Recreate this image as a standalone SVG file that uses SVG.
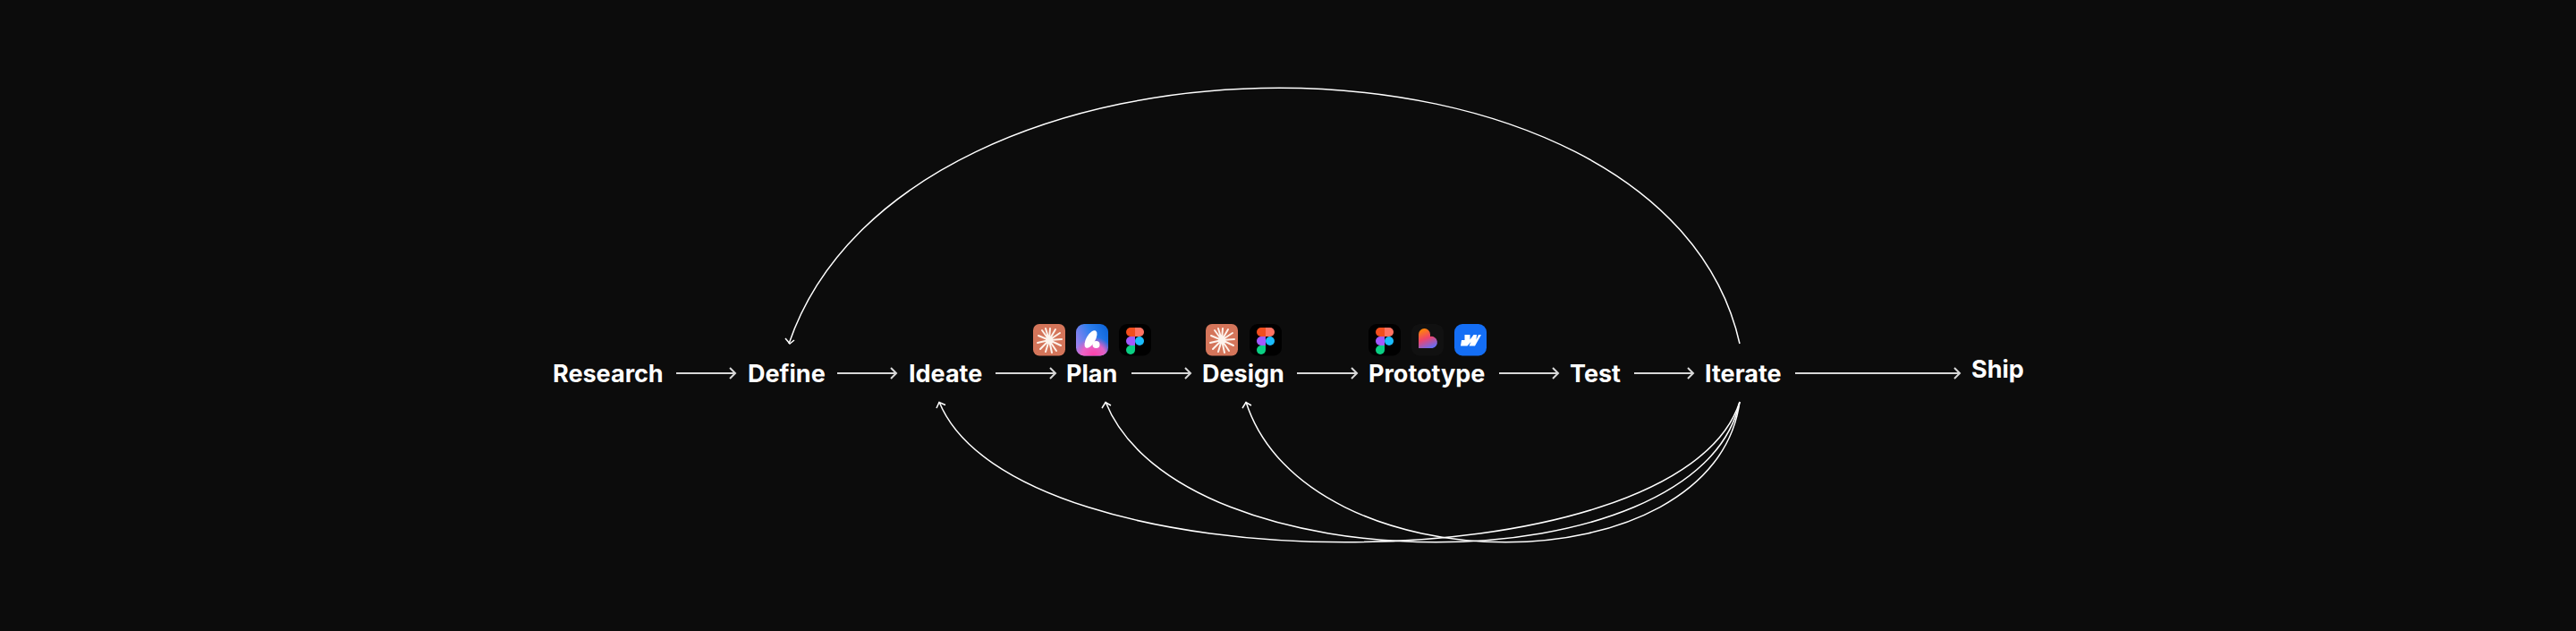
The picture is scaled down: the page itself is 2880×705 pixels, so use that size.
<svg xmlns="http://www.w3.org/2000/svg" width="2880" height="705" viewBox="0 0 2880 705">
<style>
.t{font-family:Inter,"Liberation Sans",sans-serif;font-weight:700;font-size:27px;fill:#fff}
.c{fill:none;stroke:#fff;stroke-width:1.5}
.s{fill:none;stroke:#d8d8d8;stroke-width:2}
.h{fill:none;stroke:#fff;stroke-width:1.5}
</style>
<defs>
<linearGradient id="lov" x1="0.2" y1="0" x2="0.6" y2="1"><stop offset="0" stop-color="#ff8a00"/><stop offset="0.5" stop-color="#f0446a"/><stop offset="1" stop-color="#6a6cf0"/></linearGradient>
<linearGradient id="asm" x1="0" y1="0.6" x2="1" y2="0.1"><stop offset="0" stop-color="#9b82ee"/><stop offset="0.5" stop-color="#2f7fee"/><stop offset="1" stop-color="#0a63d8"/></linearGradient>
<radialGradient id="asp" cx="0.55" cy="1" r="0.6"><stop offset="0" stop-color="#ff3fa8"/><stop offset="0.6" stop-color="#ff5fc0" stop-opacity="0.85"/><stop offset="1" stop-color="#ff4fb0" stop-opacity="0"/></radialGradient>
<g id="claude"><rect width="36" height="35.500" rx="7" fill="#d4755a"/><g stroke="#fdf3ec" stroke-width="2" stroke-linecap="round"><path d="M18 18L19 5M18 18L25 6M18 18L30 10M18 18L32 17M18 18L31 24M18 18L26 30M18 18L21 32M18 18L14 31M18 18L8 28M18 18L5 21M18 18L6 13M18 18L10 7M18 18L14 5"/></g><circle cx="18" cy="18" r="4" fill="#fdf3ec"/></g>
<g id="figma"><rect width="36" height="35.500" rx="9" fill="#000"/><path d="M8 9A5 5 0 0 1 13 4H18V14H13A5 5 0 0 1 8 9Z" fill="#f24e1e"/><path d="M18 4h5a5 5 0 0 1 0 10H18Z" fill="#ff7262"/><path d="M8 19A5 5 0 0 1 13 14H18V24H13A5 5 0 0 1 8 19Z" fill="#a259ff"/><circle cx="23" cy="19" r="5" fill="#1abcfe"/><path d="M8 29A5 5 0 0 1 13 24H18V29A5 5 0 0 1 8 29Z" fill="#0acf83"/></g>
</defs>
<rect width="2880" height="705" fill="#0c0c0c"/>
<g id="connectors">
<path class="s" d="M756 417H822M936 417H1002M1113 417H1180M1265 417H1331M1450 417H1517M1676 417H1742M1827 417H1893M2007 417H2191"/>
<path class="s" d="M816 411L822 417L816 423M996 411L1002 417L996 423M1174 411L1180 417L1174 423M1325 411L1331 417L1325 423M1511 411L1517 417L1511 423M1736 411L1742 417L1736 423M1887 411L1893 417L1887 423M2185 411L2191 417L2185 423"/>
<path class="c" d="M1945 384C1860 3 1012 3 882 384"/>
<path class="h" d="M878 378L883 384L888 380"/>
<path class="c" d="M1945 449C1878 658 1135 658 1050 449"/>
<path class="h" d="M1047 456L1050 449.500L1057 452.500"/>
<path class="c" d="M1945 449C1900 658 1320 658 1236 449"/>
<path class="h" d="M1232 456L1236 449.500L1242 453"/>
<path class="c" d="M1945 449C1916 658 1460 658 1393 449"/>
<path class="h" d="M1389 456L1393 449.500L1399 453"/>
</g>
<g id="research"><text class="t" x="618" y="427">Research</text></g>
<g id="define"><text class="t" x="836" y="427">Define</text></g>
<g id="ideate"><text class="t" x="1016" y="427">Ideate</text></g>
<g id="plan"><text class="t" x="1192" y="427">Plan</text>
<use href="#claude" x="1155" y="362"/>
<g id="aspect"><rect x="1203" y="362" width="36" height="35.500" rx="9" fill="url(#asm)"/><rect x="1203" y="362" width="36" height="35.500" rx="9" fill="url(#asp)"/><ellipse cx="1219.500" cy="379" rx="11" ry="5" transform="rotate(-60 1219.500 379)" fill="#fff"/><circle cx="1225.500" cy="385" r="4" fill="#fff"/></g>
<use href="#figma" x="1251" y="362"/></g>
<g id="design"><text class="t" x="1344" y="427">Design</text>
<use href="#claude" x="1348" y="362"/>
<use href="#figma" x="1397" y="362"/></g>
<g id="prototype"><text class="t" x="1530" y="427">Prototype</text>
<use href="#figma" x="1530" y="362"/>
<g id="lovable"><rect x="1578" y="362" width="36" height="35.500" rx="9" fill="#111"/><path d="M1586 373.500A6.500 6.500 0 0 1 1599 373.500V376A6.500 6.500 0 0 1 1601.500 389H1586Z" fill="url(#lov)"/></g>
<g id="webflow"><rect x="1626" y="362" width="36" height="35.500" rx="9" fill="#146ef5"/><path d="M1656 374L1649 386.500H1642.500L1644.500 382L1640.500 386.500H1633L1634 380H1637.500V374H1643.500V379.500L1647.500 374H1651L1650.500 379.500L1653 374Z" fill="#fff"/></g></g>
<g id="test"><text class="t" x="1755" y="427">Test</text></g>
<g id="iterate"><text class="t" x="1906" y="427">Iterate</text></g>
<g id="ship"><text class="t" x="2204" y="422">Ship</text></g>
</svg>
